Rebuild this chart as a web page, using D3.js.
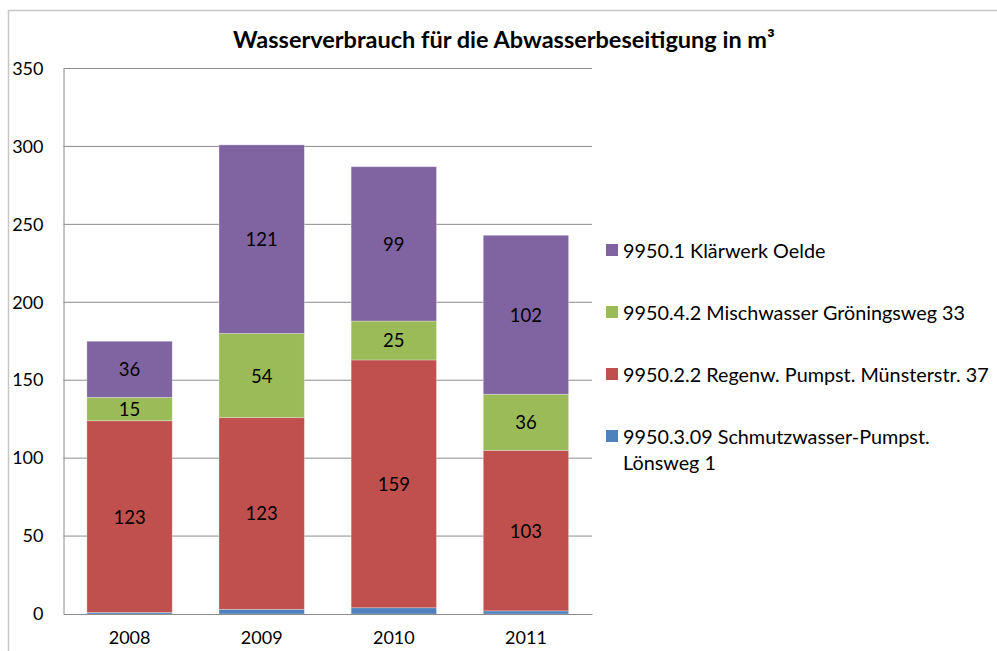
<!DOCTYPE html>
<html><head><meta charset="utf-8">
<script src="https://cdn.jsdelivr.net/npm/d3@7"></script>
<style>body{margin:0;background:#fff}svg{display:block}text{font-family:Lato,"Liberation Sans",sans-serif}</style>
</head><body>
<svg id="c" width="997" height="651"></svg>
<script>
const years = ["2008","2009","2010","2011"];
const seriesNames = ["9950.3.09 Schmutzwasser-Pumpst. Lönsweg 1","9950.2.2 Regenw. Pumpst. Münsterstr. 37","9950.4.2 Mischwasser Gröningsweg 33","9950.1 Klärwerk Oelde"];
const schmutz = [1,3,4,2];
const regen = [123,123,159,103];
const misch = [15,54,25,36];
const klaer = [36,121,99,102];
const colors = ["#4F81BD","#C0504D","#9BBB59","#8064A2"];
const yTicks = [0,50,100,150,200,250,300,350];
const title = "Wasserverbrauch für die Abwasserbeseitigung in m³";

const svg = d3.select("#c");
svg.append("rect").attr("x",8.5).attr("y",10.5).attr("width",1100).attr("height",800)
  .attr("fill","none").attr("stroke","#C6C6C6").attr("stroke-width",1.5);

const L=63.5,R=592,T=68.5,B=614;
const x = d3.scaleBand().domain(years).range([L,R]).paddingInner(0.354).paddingOuter(0.177);
const y = d3.scaleLinear().domain([0,350]).range([B,T]);

svg.append("g").selectAll("line").data(yTicks.filter(d=>d>0)).join("line")
  .attr("x1",L).attr("x2",R).attr("y1",d=>y(d)).attr("y2",d=>y(d))
  .attr("stroke","#8C8C8C").attr("stroke-width",1);

const data = years.map((yr,i)=>({year:yr, s0:schmutz[i], s1:regen[i], s2:misch[i], s3:klaer[i]}));
const stack = d3.stack().keys(["s0","s1","s2","s3"])(data);

stack.forEach((layer,li)=>{
  const g = svg.append("g");
  g.selectAll("rect").data(layer).join("rect")
    .attr("x",d=>x(d.data.year)).attr("width",x.bandwidth())
    .attr("y",d=>y(d[1])).attr("height",d=>y(d[0])-y(d[1]))
    .attr("fill",colors[li]).attr("stroke","rgba(255,255,255,0.35)").attr("stroke-width",0.8);
  if(li>0){
    g.selectAll("text").data(layer).join("text")
      .attr("x",d=>x(d.data.year)+x.bandwidth()/2)
      .attr("y",d=>(y(d[0])+y(d[1]))/2)
      .attr("text-anchor","middle").attr("dominant-baseline","central")
      .attr("font-size",18.5).attr("fill","#000")
      .text(d=>d[1]-d[0]);
  }
});

const yAxis = d3.axisLeft(y).tickValues(yTicks).tickSize(0).tickPadding(20);
const ga = svg.append("g").attr("transform",`translate(${L},0)`).call(yAxis);
ga.select(".domain").attr("stroke","#8C8C8C");
ga.selectAll("text").attr("font-size",18).attr("fill","#000").attr("font-family","Lato,'Liberation Sans',sans-serif");

const xAxis = d3.axisBottom(x).tickSize(0).tickPadding(17);
const gx = svg.append("g").attr("transform",`translate(0,${B})`).call(xAxis);
gx.select(".domain").attr("stroke","#8C8C8C");
gx.selectAll("text").attr("font-size",18).attr("fill","#000").attr("font-family","Lato,'Liberation Sans',sans-serif");

svg.append("text").attr("x",504).attr("y",48).attr("text-anchor","middle")
  .attr("font-size",23.5).attr("font-weight","bold").text(title);

const legY = [250,312,374,436];
const legOrder = [3,2,1,0];
legOrder.forEach((si,k)=>{
  const g = svg.append("g");
  g.append("rect").attr("x",606).attr("y",legY[k]-6).attr("width",12).attr("height",12).attr("fill",colors[si]);
  const t = g.append("text").attr("x",623).attr("y",legY[k]).attr("dominant-baseline","central").attr("font-size",19.8);
  if(si===0){
    t.append("tspan").attr("x",623).text("9950.3.09 Schmutzwasser-Pumpst.");
    t.append("tspan").attr("x",623).attr("dy",26).text("Lönsweg 1");
  } else t.text(seriesNames[si]);
});
</script>
</body></html>
